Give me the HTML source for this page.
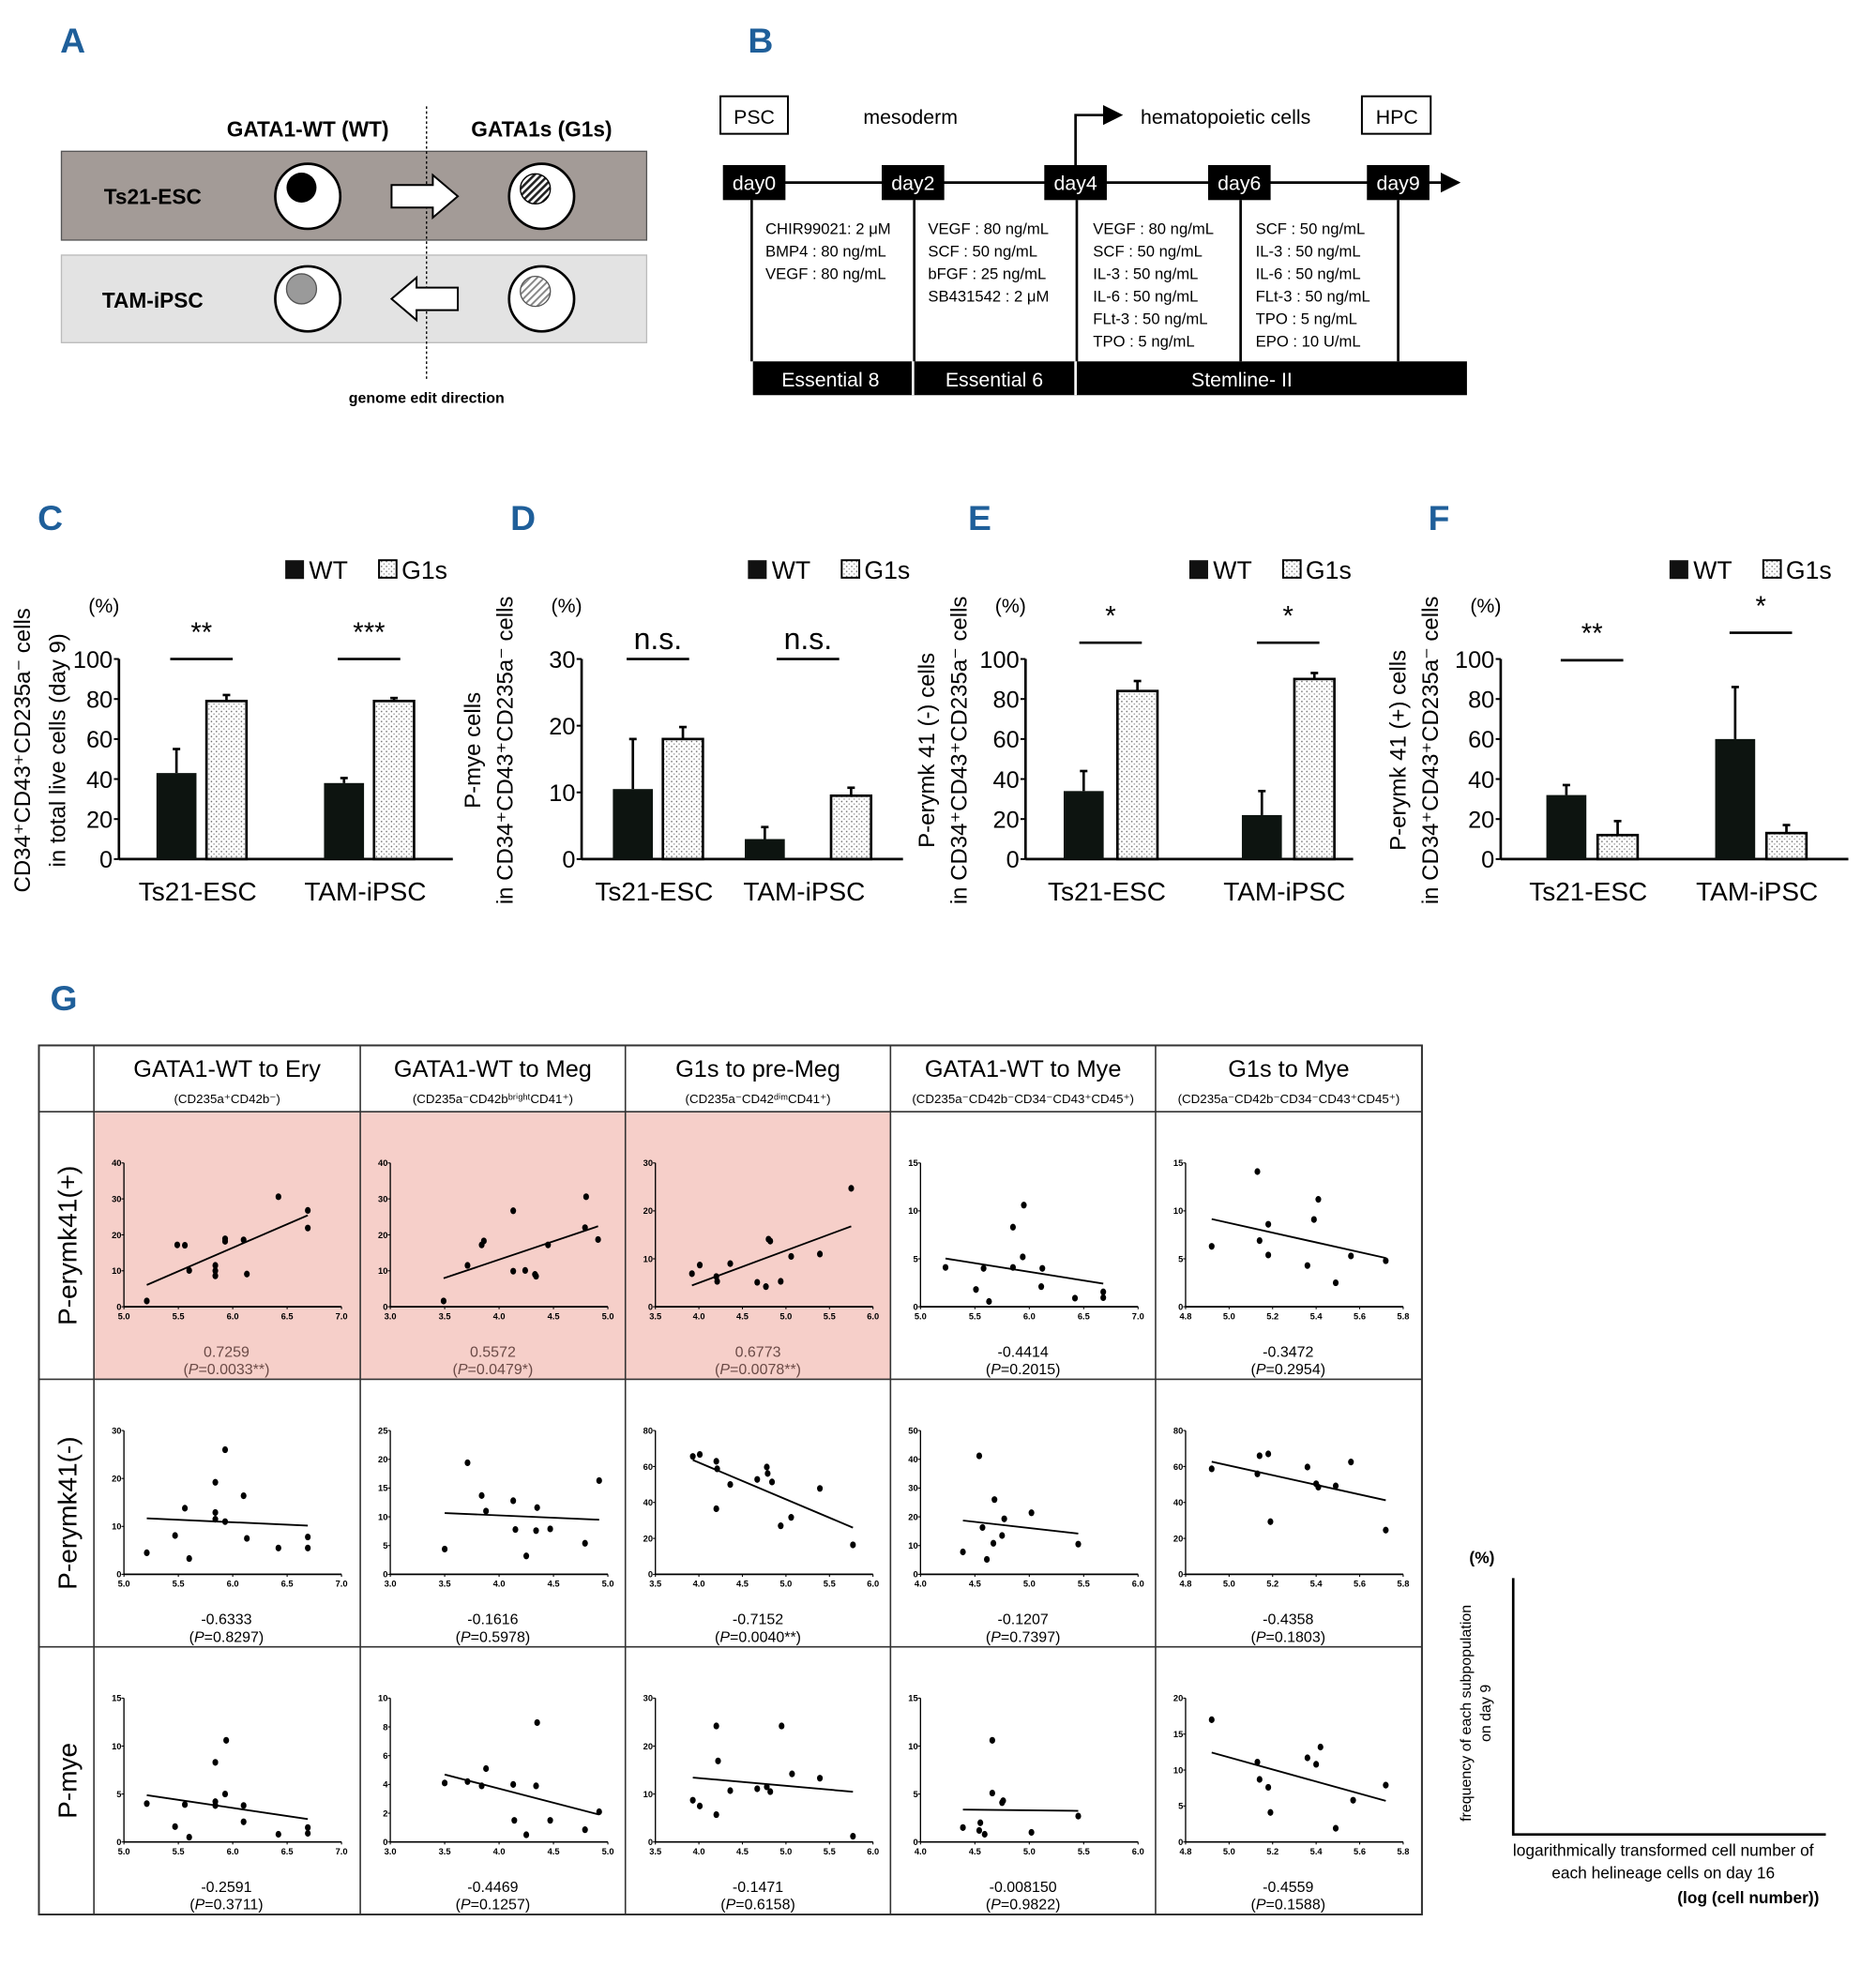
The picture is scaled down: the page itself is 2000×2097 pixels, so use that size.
<!DOCTYPE html>
<html><head><meta charset="utf-8">
<style>
html,body{margin:0;padding:0;background:#fff;}
svg{display:block;}
text{font-family:"Liberation Sans",sans-serif;}
.n{font-family:"Liberation Sans Narrow","Liberation Sans",sans-serif;}
</style></head>
<body>
<svg id="fig" width="2000" height="2097" viewBox="0 0 1500 1573" xmlns="http://www.w3.org/2000/svg">
<defs>
<pattern id="dots" width="4" height="4" patternUnits="userSpaceOnUse"><rect width="4" height="4" fill="#fff"/><circle cx="1" cy="1" r="0.6" fill="#666"/><circle cx="3" cy="3" r="0.6" fill="#999"/></pattern>
<pattern id="hatch" width="4" height="4" patternUnits="userSpaceOnUse" patternTransform="rotate(45)"><rect width="4" height="4" fill="#fff"/><rect width="2" height="4" fill="#222"/></pattern>
<pattern id="hatchL" width="4" height="4" patternUnits="userSpaceOnUse" patternTransform="rotate(45)"><rect width="4" height="4" fill="#fff"/><rect width="1.5" height="4" fill="#888"/></pattern>
<marker id="ah" markerWidth="8" markerHeight="8" refX="7" refY="4" orient="auto"><path d="M0,0 L8,4 L0,8 z" fill="#000"/></marker>
</defs>

<!-- Panel A -->
<g>
<text class="n" x="48" y="42" font-size="28" font-weight="bold" fill="#1f5f9a">A</text>
<text x="246" y="109" font-size="17" font-weight="bold" text-anchor="middle">GATA1-WT (WT)</text>
<text x="433" y="109" font-size="17" font-weight="bold" text-anchor="middle">GATA1s (G1s)</text>
<rect x="49" y="121" width="468" height="71" fill="#a39b97" stroke="#555"/>
<rect x="49" y="204" width="468" height="70" fill="#e3e3e3" stroke="#bbb"/>
<line x1="341" y1="85" x2="341" y2="305" stroke="#000" stroke-dasharray="2,2"/>
<text x="122" y="163" font-size="17" font-weight="bold" text-anchor="middle">Ts21-ESC</text>
<text x="122" y="246" font-size="17" font-weight="bold" text-anchor="middle">TAM-iPSC</text>
<circle cx="246" cy="157" r="26" fill="#fff" stroke="#000" stroke-width="2"/>
<circle cx="241" cy="150" r="12" fill="#000"/>
<circle cx="433" cy="157" r="26" fill="#fff" stroke="#000" stroke-width="2"/>
<circle cx="428" cy="151" r="12" fill="url(#hatch)" stroke="#000"/>
<circle cx="246" cy="239" r="26" fill="#fff" stroke="#000" stroke-width="2"/>
<circle cx="241" cy="231" r="12" fill="#9a9a9a" stroke="#555"/>
<circle cx="433" cy="239" r="26" fill="#fff" stroke="#000" stroke-width="2"/>
<circle cx="428" cy="233" r="12" fill="url(#hatchL)" stroke="#555"/>
<path d="M313,148 L346,148 L346,140 L366,157 L346,174 L346,166 L313,166 Z" fill="#fff" stroke="#000" stroke-width="1.5"/>
<path d="M366,230 L333,230 L333,222 L313,239 L333,256 L333,248 L366,248 Z" fill="#fff" stroke="#000" stroke-width="1.5"/>
<text x="341" y="322" font-size="12" font-weight="bold" text-anchor="middle">genome edit direction</text>
</g>

<!-- Panel B -->
<g class="n">
<text class="n" x="598" y="42" font-size="28" font-weight="bold" fill="#1f5f9a">B</text>
<rect x="576" y="77" width="54" height="30" fill="#fff" stroke="#000" stroke-width="1.5"/>
<text class="n" x="603" y="99" font-size="16" text-anchor="middle">PSC</text>
<text class="n" x="728" y="99" font-size="16" text-anchor="middle">mesoderm</text>
<polyline points="860,140 860,92 896,92" fill="none" stroke="#000" stroke-width="2" marker-end="url(#ah)"/>
<text class="n" x="980" y="99" font-size="16" text-anchor="middle">hematopoietic cells</text>
<rect x="1089" y="77" width="55" height="30" fill="#fff" stroke="#000" stroke-width="1.5"/>
<text class="n" x="1117" y="99" font-size="16" text-anchor="middle">HPC</text>
<line x1="580" y1="146" x2="1166" y2="146" stroke="#000" stroke-width="2" marker-end="url(#ah)"/>
<g fill="#000"><rect x="578" y="132" width="50" height="28"/><rect x="705" y="132" width="50" height="28"/><rect x="835" y="132" width="50" height="28"/><rect x="966" y="132" width="50" height="28"/><rect x="1093" y="132" width="50" height="28"/></g>
<g fill="#fff" font-size="16" text-anchor="middle"><text class="n" x="603" y="152">day0</text><text class="n" x="730" y="152">day2</text><text class="n" x="860" y="152">day4</text><text class="n" x="991" y="152">day6</text><text class="n" x="1118" y="152">day9</text></g>
<g stroke="#000" stroke-width="2"><line x1="601" y1="160" x2="601" y2="289"/><line x1="731" y1="160" x2="731" y2="289"/><line x1="861" y1="160" x2="861" y2="289"/><line x1="992" y1="160" x2="992" y2="289"/><line x1="1118" y1="160" x2="1118" y2="289"/></g>
<g font-size="12.5">
<text class="n" x="612" y="187">CHIR99021: 2 μM</text><text class="n" x="612" y="205">BMP4 : 80 ng/mL</text><text class="n" x="612" y="223">VEGF : 80 ng/mL</text>
<text class="n" x="742" y="187">VEGF : 80 ng/mL</text><text class="n" x="742" y="205">SCF   : 50 ng/mL</text><text class="n" x="742" y="223">bFGF : 25 ng/mL</text><text class="n" x="742" y="241">SB431542 : 2 μM</text>
<text class="n" x="874" y="187">VEGF : 80 ng/mL</text><text class="n" x="874" y="205">SCF    : 50 ng/mL</text><text class="n" x="874" y="223">IL-3    : 50 ng/mL</text><text class="n" x="874" y="241">IL-6    : 50 ng/mL</text><text class="n" x="874" y="259">FLt-3 : 50 ng/mL</text><text class="n" x="874" y="277">TPO    : 5 ng/mL</text>
<text class="n" x="1004" y="187">SCF    : 50 ng/mL</text><text class="n" x="1004" y="205">IL-3    : 50 ng/mL</text><text class="n" x="1004" y="223">IL-6    : 50 ng/mL</text><text class="n" x="1004" y="241">FLt-3 : 50 ng/mL</text><text class="n" x="1004" y="259">TPO    : 5 ng/mL</text><text class="n" x="1004" y="277">EPO    : 10 U/mL</text>
</g>
<rect x="602" y="289" width="571" height="27" fill="#000"/>
<line x1="730" y1="289" x2="730" y2="316" stroke="#fff" stroke-width="2"/><line x1="860" y1="289" x2="860" y2="316" stroke="#fff" stroke-width="2"/>
<g fill="#fff" font-size="16" text-anchor="middle"><text class="n" x="664" y="309">Essential 8</text><text class="n" x="795" y="309">Essential 6</text><text class="n" x="993" y="309">Stemline- II</text></g>
</g>

<g id="bars"></g>

<!-- Panel G -->
<text class="n" x="40" y="808" font-size="28" font-weight="bold" fill="#1f5f9a">G</text>
<g id="gtable"></g>

<!-- legend schematic -->
<g>
<text x="1185" y="1250" font-size="13" font-weight="bold" text-anchor="middle">(%)</text>
<polyline points="1210,1262 1210,1467 1460,1467" fill="none" stroke="#000" stroke-width="2"/>
<text x="1176" y="1370" font-size="12" text-anchor="middle" transform="rotate(-90 1176 1370)">frequency of each subpopulation</text>
<text x="1192" y="1370" font-size="12" text-anchor="middle" transform="rotate(-90 1192 1370)">on day 9</text>
<text x="1330" y="1484" font-size="13" text-anchor="middle">logarithmically transformed cell number of</text>
<text x="1330" y="1502" font-size="13" text-anchor="middle">each helineage cells on day 16</text>
<text x="1398" y="1522" font-size="13" font-weight="bold" text-anchor="middle">(log (cell number))</text>
</g>
</svg>

<script>
// ---------- Bar chart data ----------
const barCategories = ['Ts21-ESC', 'TAM-iPSC'];
const cWT = [43, 38];   const cWTerr = [12, 2.5]; const cG1 = [79, 79]; const cG1err = [3, 1.5];
const dWT = [10.5, 3];  const dWTerr = [7.5, 1.8]; const dG1 = [18, 9.5]; const dG1err = [1.8, 1.2];
const eWT = [34, 22];   const eWTerr = [10, 12]; const eG1 = [84, 90]; const eG1err = [5, 3];
const fWT = [32, 60];   const fWTerr = [5, 26]; const fG1 = [12, 13]; const fG1err = [7, 4];
const cSig = ['**', '***']; const dSig = ['n.s.', 'n.s.']; const eSig = ['*', '*']; const fSig = ['**', '*'];
const pctTicks100 = [0, 20, 40, 60, 80, 100];
const pctTicks30 = [0, 10, 20, 30];

const NS = 'http://www.w3.org/2000/svg';
function mk(tag, attrs, parent, name, inter) {
  const e = document.createElementNS(NS, tag);
  for (const k in attrs) e.setAttribute(k, attrs[k]);
  
  
  parent.appendChild(e);
  return e;
}
function txt(parent, x, y, s, size, name, extra) {
  const t = mk('text', Object.assign({x: x, y: y, 'font-size': size}, extra || {}), parent, name, false);
  t.textContent = s;
  return t;
}

const barPanels = [
  {id:'c', letter:'C', lx:30, ax:95, right:362, ymax:100, ticks:pctTicks100, wt:cWT, wte:cWTerr, g1:cG1, g1e:cG1err, sig:cSig, centers:[66,200], gap:[40,40], sigY:[527,527], ylab:['CD34⁺CD43⁺CD235a⁻ cells','in total live cells (day 9)'], ylx:[24,52], legX:228},
  {id:'d', letter:'D', lx:408, ax:465, right:722, ymax:30, ticks:pctTicks30, wt:dWT, wte:dWTerr, g1:dG1, g1e:dG1err, sig:dSig, centers:[61,181], gap:[40,69], sigY:[527,527], ylab:['P-mye cells','in CD34⁺CD43⁺CD235a⁻ cells'], ylx:[384,410], legX:598},
  {id:'e', letter:'E', lx:774, ax:820, right:1082, ymax:100, ticks:pctTicks100, wt:eWT, wte:eWTerr, g1:eG1, g1e:eG1err, sig:eSig, centers:[68,210], gap:[43,42], sigY:[514,514], ylab:['P-erymk 41 (-) cells','in CD34⁺CD43⁺CD235a⁻ cells'], ylx:[747,773], legX:951},
  {id:'f', letter:'F', lx:1142, ax:1200, right:1478, ymax:100, ticks:pctTicks100, wt:fWT, wte:fWTerr, g1:fG1, g1e:fG1err, sig:fSig, centers:[73,208], gap:[41,41], sigY:[528,506], ylab:['P-erymk 41 (+) cells','in CD34⁺CD43⁺CD235a⁻ cells'], ylx:[1124,1150], legX:1335}
];
const bars = document.getElementById('bars');
const Y0 = 687, YH = 160, BW = 32;
barPanels.forEach(p => {
  const g = mk('g', {}, bars, 'panel-' + p.id, false);
  txt(g, p.lx, 424, p.letter, 28, 'panel-' + p.id + '-label', {'font-weight':'bold', fill:'#1f5f9a', class:'n'});
  const y = v => Y0 - v / p.ymax * YH;
  mk('rect', {x:p.legX, y:448, width:15, height:15, fill:'#111'}, g, 'legend-wt-swatch', false);
  txt(g, p.legX + 19, 463, 'WT', 20, 'legend-wt-label');
  mk('rect', {x:p.legX + 75, y:448, width:14, height:14, fill:'url(#dots)', stroke:'#000', 'stroke-width':1.5}, g, 'legend-g1s-swatch', false);
  txt(g, p.legX + 93, 463, 'G1s', 20, 'legend-g1s-label');
  mk('line', {x1:p.ax, y1:y(p.ymax), x2:p.ax, y2:Y0, stroke:'#000', 'stroke-width':2}, g, 'y-axis', false);
  mk('line', {x1:p.ax, y1:Y0, x2:p.right, y2:Y0, stroke:'#000', 'stroke-width':2}, g, 'x-axis', false);
  p.ticks.forEach(t => {
    mk('line', {x1:p.ax - 4, y1:y(t), x2:p.ax, y2:y(t), stroke:'#000', 'stroke-width':1.5}, g, 'y-tick', false);
    txt(g, p.ax - 5, y(t) + 7, String(t), 19, 'y-tick-label', {'text-anchor':'end'});
  });
  txt(g, p.ax - 12, 490, '(%)', 16, 'y-unit-label', {'text-anchor':'middle'});
  p.ylab.forEach((s, i) => {
    txt(g, p.ylx[i], 600, s, 18, 'y-axis-title', {'text-anchor':'middle', transform:'rotate(-90 ' + p.ylx[i] + ' 600)'});
  });
  barCategories.forEach((cat, i) => {
    const cx = p.ax + p.centers[i];
    const half = (p.gap[i] + BW) / 2;
    const wx = cx - half, gx = cx - half + p.gap[i];
    mk('line', {x1:wx + BW/2, y1:y(p.wt[i]), x2:wx + BW/2, y2:y(p.wt[i] + p.wte[i]), stroke:'#000', 'stroke-width':2}, g, 'error-bar-wt', false);
    mk('line', {x1:wx + BW/2 - 3, y1:y(p.wt[i] + p.wte[i]), x2:wx + BW/2 + 3, y2:y(p.wt[i] + p.wte[i]), stroke:'#000', 'stroke-width':2}, g, 'error-cap-wt', false);
    mk('line', {x1:gx + BW/2, y1:y(p.g1[i]), x2:gx + BW/2, y2:y(p.g1[i] + p.g1e[i]), stroke:'#000', 'stroke-width':2}, g, 'error-bar-g1s', false);
    mk('line', {x1:gx + BW/2 - 3, y1:y(p.g1[i] + p.g1e[i]), x2:gx + BW/2 + 3, y2:y(p.g1[i] + p.g1e[i]), stroke:'#000', 'stroke-width':2}, g, 'error-cap-g1s', false);
    mk('rect', {x:wx, y:y(p.wt[i]), width:BW, height:Y0 - y(p.wt[i]), fill:'#0d1410'}, g, 'bar-wt-' + cat.toLowerCase(), false);
    mk('rect', {x:gx, y:y(p.g1[i]), width:BW, height:Y0 - y(p.g1[i]), fill:'url(#dots)', stroke:'#000', 'stroke-width':2}, g, 'bar-g1s-' + cat.toLowerCase(), false);
    mk('line', {x1:cx - 25, y1:p.sigY[i], x2:cx + 25, y2:p.sigY[i], stroke:'#000', 'stroke-width':2}, g, 'significance-line', false);
    txt(g, cx, p.sigY[i] - (p.sig[i] === 'n.s.' ? 8 : 14), p.sig[i], p.sig[i] === 'n.s.' ? 24 : 22, 'significance-label', {'text-anchor':'middle'});
    txt(g, cx - 3, 720, cat, 21, 'x-category-label', {'text-anchor':'middle'});
  });
});

// ---------- Scatter data (panel G) ----------
const colTitles = ['GATA1-WT to Ery', 'GATA1-WT to Meg', 'G1s to pre-Meg', 'GATA1-WT to Mye', 'G1s to Mye'];
const rowTitles = ['P-erymk41(+)', 'P-erymk41(-)', 'P-mye'];
const rValues = [['0.7259','0.5572','0.6773','-0.4414','-0.3472'],['-0.6333','-0.1616','-0.7152','-0.1207','-0.4358'],['-0.2591','-0.4469','-0.1471','-0.008150','-0.4559']];
const pValues = [['0.0033**','0.0479*','0.0078**','0.2015','0.2954'],['0.8297','0.5978','0.0040**','0.7397','0.1803'],['0.3711','0.1257','0.6158','0.9822','0.1588']];
const yMaxes = [[40,40,30,15,15],[30,25,80,50,80],[15,10,30,15,20]];
const yStepsG = [[10,10,10,5,5],[10,5,20,10,20],[5,2,10,5,5]];
const xDomRow1 = [[5,7],[3,5],[3.5,6],[5,7],[4.8,5.8]];
const xDomRows23 = [[5,7],[3,5],[3.5,6],[4,6],[4.8,5.8]];
const xStepsG = [0.5,0.5,0.5,0.5,0.2];

const x11=[5.21,5.49,5.56,5.6,5.84,5.84,5.84,5.93,5.93,6.1,6.13,6.42,6.69,6.69];
const y11=[1.6,17.2,17.1,10.1,11.5,10,8.6,18.2,18.9,18.6,9.1,30.6,26.8,21.9];
const x12=[3.49,3.71,3.84,3.86,4.13,4.13,4.24,4.33,4.34,4.45,4.79,4.8,4.91];
const y12=[1.6,11.5,17.2,18.3,26.7,9.9,10.1,9,8.5,17.2,22,30.6,18.7];
const x13=[3.92,4.01,4.2,4.21,4.36,4.67,4.77,4.8,4.82,4.94,5.06,5.39,5.75];
const y13=[6.9,8.7,6.3,5.3,9.0,5.1,4.2,14.1,13.7,5.3,10.5,11.0,24.7];
const x14=[5.23,5.51,5.58,5.63,5.85,5.85,5.94,5.95,6.12,6.11,6.42,6.68,6.68];
const y14=[4.1,1.8,4.0,0.55,8.3,4.1,5.2,10.6,4.0,2.1,0.9,1.55,0.95];
const x15=[4.92,5.13,5.14,5.18,5.18,5.36,5.39,5.41,5.49,5.56,5.72];
const y15=[6.3,14.1,6.9,8.6,5.4,4.3,9.1,11.2,2.5,5.3,4.8];
const x21=[5.21,5.47,5.56,5.6,5.84,5.84,5.84,5.93,5.93,6.1,6.13,6.42,6.69,6.69];
const y21=[4.5,8.1,13.8,3.3,19.2,12.9,11.5,11.0,26,16.4,7.5,5.5,7.8,5.5];
const x22=[3.5,3.71,3.84,3.88,4.13,4.15,4.25,4.34,4.35,4.47,4.79,4.92];
const y22=[4.4,19.4,13.7,11.0,12.8,7.8,3.2,7.6,11.6,7.9,5.4,16.3];
const x23=[3.93,4.01,4.2,4.21,4.2,4.36,4.67,4.78,4.79,4.84,4.94,5.06,5.39,5.77];
const y23=[65.6,66.7,62.9,58.7,36.5,50,52.8,59.7,56.1,51.4,27,31.7,47.8,16.4];
const x24=[4.39,4.54,4.57,4.61,4.68,4.67,4.75,4.77,5.02,5.45];
const y24=[7.8,41.2,16.3,5.2,26,10.8,13.5,19.3,21.4,10.5];
const x25=[4.92,5.13,5.14,5.18,5.19,5.36,5.40,5.41,5.49,5.56,5.72];
const y25=[58.7,55.9,66,67,29.3,59.7,50.4,48.5,49.2,62.5,24.6];
const x31=[5.21,5.47,5.56,5.6,5.84,5.84,5.84,5.93,5.94,6.1,6.1,6.42,6.69,6.69];
const y31=[4.0,1.6,3.9,0.5,8.3,4.2,3.8,5.0,10.6,3.8,2.1,0.8,1.5,0.9];
const x32=[3.5,3.71,3.84,3.88,4.13,4.14,4.25,4.34,4.35,4.47,4.79,4.92];
const y32=[4.1,4.2,3.9,5.1,4.0,1.5,0.5,3.9,8.3,1.5,0.85,2.1];
const x33=[3.93,4.01,4.2,4.2,4.22,4.36,4.67,4.78,4.82,4.95,5.07,5.39,5.77];
const y33=[8.7,7.5,5.7,24.2,16.9,10.7,11.1,11.5,10.5,24.2,14.2,13.3,1.2];
const x34=[4.39,4.54,4.55,4.59,4.66,4.66,4.75,4.76,5.02,5.45];
const y34=[1.5,1.2,2.0,0.8,10.6,5.1,4.1,4.3,1.0,2.7];
const x35=[4.92,5.13,5.14,5.18,5.19,5.36,5.40,5.42,5.49,5.57,5.72];
const y35=[17,11.1,8.7,7.6,4.1,11.7,10.8,13.2,1.9,5.8,7.9];
const cellX = [[x11,x12,x13,x14,x15],[x21,x22,x23,x24,x25],[x31,x32,x33,x34,x35]];
const cellY = [[y11,y12,y13,y14,y15],[y21,y22,y23,y24,y25],[y31,y32,y33,y34,y35]];

const gt = document.getElementById('gtable');
const colEdges = [75, 288, 500, 712, 924, 1137];
const rowEdges = [889, 1103, 1317, 1531];
const subPlain = ['(CD235a⁺CD42b⁻)', '(CD235a⁻CD42bᵇʳⁱᵍʰᵗCD41⁺)', '(CD235a⁻CD42ᵈⁱᵐCD41⁺)', '(CD235a⁻CD42b⁻CD34⁻CD43⁺CD45⁺)', '(CD235a⁻CD42b⁻CD34⁻CD43⁺CD45⁺)'];
for (let c = 0; c < 3; c++) {
  mk('rect', {x:colEdges[c], y:rowEdges[0], width:colEdges[c+1]-colEdges[c], height:rowEdges[1]-rowEdges[0], fill:'#f6cfc9'}, gt, 'significant-cell-highlight', false);
}
mk('rect', {x:31, y:836, width:1106, height:695, fill:'none', stroke:'#333', 'stroke-width':1.5}, gt, 'table-border', false);
colEdges.forEach(x => mk('line', {x1:x, y1:836, x2:x, y2:1531, stroke:'#333', 'stroke-width':1.2}, gt, 'table-column-line', false));
rowEdges.forEach(y => mk('line', {x1:31, y1:y, x2:1137, y2:y, stroke:'#333', 'stroke-width':1.2}, gt, 'table-row-line', false));
colTitles.forEach((s, c) => {
  const cx = (colEdges[c] + colEdges[c+1]) / 2;
  txt(gt, cx, 861, s, 19, 'column-title', {'text-anchor':'middle'});
  txt(gt, cx, 882, subPlain[c], 10, 'column-subtitle', {'text-anchor':'middle'});
});
rowTitles.forEach((s, r) => {
  const cy = (rowEdges[r] + rowEdges[r+1]) / 2;
  txt(gt, 61, cy, s, 21, 'row-title', {'text-anchor':'middle', transform:'rotate(-90 61 ' + cy + ')'});
});
function fmt(v) { return (Math.round(v * 10) / 10).toFixed(1); }
for (let r = 0; r < 3; r++) {
  for (let c = 0; c < 5; c++) {
    const L = colEdges[c], T = rowEdges[r];
    const g = mk('g', {}, gt, 'scatter-r' + (r+1) + '-c' + (c+1), false);
    const dom = r === 0 ? xDomRow1[c] : xDomRows23[c];
    const ax0 = L + 24, ax1 = L + 198, ay0 = T + 156, ay1 = T + 41;
    const sx = v => ax0 + (v - dom[0]) / (dom[1] - dom[0]) * (ax1 - ax0);
    const sy = v => ay0 - v / yMaxes[r][c] * (ay0 - ay1);
    mk('line', {x1:ax0, y1:ay1, x2:ax0, y2:ay0, stroke:'#000', 'stroke-width':1}, g, 'y-axis', false);
    mk('line', {x1:ax0, y1:ay0, x2:ax1, y2:ay0, stroke:'#000', 'stroke-width':1.3}, g, 'x-axis', false);
    for (let t = 0; t <= yMaxes[r][c] + 1e-9; t += yStepsG[r][c]) {
      mk('line', {x1:ax0 - 2, y1:sy(t), x2:ax0, y2:sy(t), stroke:'#000', 'stroke-width':0.8}, g, 'y-tick', false);
      txt(g, ax0 - 2, sy(t) + 2.5, String(t), 7, 'y-tick-label', {'text-anchor':'end', 'font-weight':'bold'});
    }
    const nX = Math.round((dom[1] - dom[0]) / xStepsG[c]);
    for (let i = 0; i <= nX; i++) {
      const t = dom[0] + i * xStepsG[c];
      mk('line', {x1:sx(t), y1:ay0, x2:sx(t), y2:ay0 + 2, stroke:'#000', 'stroke-width':0.8}, g, 'x-tick', false);
      txt(g, sx(t), ay0 + 10, fmt(t), 7, 'x-tick-label', {'text-anchor':'middle', 'font-weight':'bold'});
    }
    const xs = cellX[r][c], ys = cellY[r][c];
    const n = xs.length;
    const mx = xs.reduce((a,b)=>a+b,0)/n, my = ys.reduce((a,b)=>a+b,0)/n;
    let sxy = 0, sxx = 0;
    for (let i = 0; i < n; i++) { sxy += (xs[i]-mx)*(ys[i]-my); sxx += (xs[i]-mx)*(xs[i]-mx); }
    const b = sxy / sxx, a = my - b * mx;
    const xmin = Math.min(...xs), xmax = Math.max(...xs);
    mk('line', {x1:sx(xmin), y1:sy(a + b*xmin), x2:sx(xmax), y2:sy(a + b*xmax), stroke:'#000', 'stroke-width':1.4}, g, 'regression-line', false);
    for (let i = 0; i < n; i++) {
      mk('ellipse', {cx:sx(xs[i]), cy:sy(ys[i]), rx:2.3, ry:2.7, fill:'#000'}, g, 'data-point', false);
    }
    const col = r === 0 && c < 3 ? '#6a4a46' : '#000';
    txt(g, L + 106, T + 196, rValues[r][c], 12, 'correlation-value', {'text-anchor':'middle', fill:col});
    const pt = txt(g, L + 106, T + 210, '', 12, 'p-value', {'text-anchor':'middle', fill:col});
    pt.innerHTML = '(<tspan font-style="italic">P</tspan>=' + pValues[r][c] + ')';
  }
}
</script>
</body></html>
